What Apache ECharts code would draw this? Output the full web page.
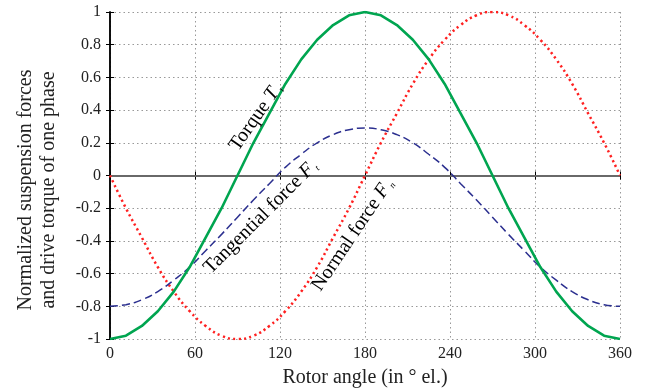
<!DOCTYPE html>
<html>
<head>
<meta charset="utf-8">
<script src="https://cdn.jsdelivr.net/npm/echarts@6/dist/echarts.min.js"></script>
<style>
  html, body { margin: 0; padding: 0; background: #fff; }
  #chart { width: 650px; height: 392px; }
</style>
</head>
<body>
<div id="chart"></div>
<script>
// rotor angle samples (deg el.)
const angles = [0, 11.25, 22.5, 33.75, 45, 56.25, 67.5, 78.75, 90, 101.25, 112.5, 123.75, 135, 146.25, 157.5, 168.75,
  180, 191.25, 202.5, 213.75, 225, 236.25, 247.5, 258.75, 270, 281.25, 292.5, 303.75, 315, 326.25, 337.5, 348.75, 360];

// torque T (green)
const torque = [-1, -0.98, -0.92, -0.83, -0.71, -0.56, -0.38, -0.2, 0, 0.2, 0.38, 0.56, 0.71, 0.83, 0.92, 0.98,
  1, 0.98, 0.92, 0.83, 0.71, 0.56, 0.38, 0.2, 0, -0.2, -0.38, -0.56, -0.71, -0.83, -0.92, -0.98, -1];

// tangential force F_t (blue dashed)
const tangential = [-0.8, -0.79, -0.76, -0.71, -0.64, -0.56, -0.46, -0.36, -0.255, -0.15, -0.05, 0.05, 0.13, 0.2, 0.25, 0.28,
  0.29, 0.28, 0.25, 0.2, 0.13, 0.05, -0.05, -0.15, -0.255, -0.36, -0.46, -0.56, -0.64, -0.71, -0.76, -0.79, -0.8];

// normal force F_n (red dotted)
const normal = [0, -0.2, -0.38, -0.56, -0.71, -0.83, -0.92, -0.98, -1, -0.98, -0.92, -0.83, -0.71, -0.56, -0.38, -0.2,
  0, 0.2, 0.38, 0.56, 0.71, 0.83, 0.92, 0.98, 1, 0.98, 0.92, 0.83, 0.71, 0.56, 0.38, 0.2, 0];

const FONT = 'Liberation Serif';
const pairs = (ys) => angles.map((a, i) => [a, ys[i]]);

const chart = echarts.init(document.getElementById('chart'));

const xBase = {
  type: 'value', min: 0, max: 360, interval: 60,
  axisLine: { show: true, lineStyle: { color: '#000', width: 1.5 } },
  axisTick: { show: true, inside: true, length: 4, lineStyle: { color: '#000' } },
};
const yBase = {
  type: 'value', min: -1, max: 1, interval: 0.2,
  axisLine: { show: true, lineStyle: { color: '#000', width: 1.5 } },
  axisTick: { show: true, inside: true, length: 4, lineStyle: { color: '#000' } },
};

chart.setOption({
  animation: false,
  backgroundColor: '#fff',
  grid: { left: 110, right: 30, top: 12, bottom: 53 },
  xAxis: [
    { ...xBase, position: 'bottom',
      axisLabel: { color: '#222', fontFamily: FONT, fontSize: 16, margin: 7 },
      splitLine: { show: true, lineStyle: { color: '#999', type: [1.5, 3], width: 1 } } },
    { ...xBase, position: 'top', axisLabel: { show: false }, splitLine: { show: false } },
  ],
  yAxis: [
    { ...yBase, position: 'left',
      axisLabel: { color: '#222', fontFamily: FONT, fontSize: 16, margin: 9,
        formatter: (v) => String(+v.toFixed(1)) },
      splitLine: { show: true, lineStyle: { color: '#999', type: [1.5, 3], width: 1 } } },
    { ...yBase, position: 'right', axisLabel: { show: false }, splitLine: { show: false } },
  ],
  series: [
    {
      type: 'line', data: pairs(normal), showSymbol: false, smooth: true, z: 3,
      lineStyle: { color: '#ff2020', width: 2.5, type: [2.2, 3.2] },
      markLine: {
        silent: true, symbol: 'none', label: { show: false }, z: 1,
        lineStyle: { color: '#888', type: 'solid', width: 1.5 },
        data: [{ yAxis: 0 }],
      },
    },
    {
      type: 'line', data: pairs(tangential), showSymbol: false, smooth: true, z: 4,
      lineStyle: { color: '#2b2f8f', width: 1.5, type: [8, 4] },
    },
    {
      type: 'line', data: pairs(torque), showSymbol: false, z: 5,
      lineStyle: { color: '#00a550', width: 2.6 },
    },
  ],
});

const px = (x, y) => chart.convertToPixel({ xAxisIndex: 0, yAxisIndex: 0 }, [x, y]);
const rich = {
  n: { fontFamily: FONT, fontSize: 20, color: '#222', lineHeight: 22, verticalAlign: 'bottom' },
  i: { fontFamily: FONT, fontSize: 20, fontStyle: 'italic', color: '#222', lineHeight: 22, verticalAlign: 'bottom' },
  s: { fontFamily: FONT, fontSize: 9, fontStyle: 'italic', color: '#222', lineHeight: 9, verticalAlign: 'bottom', padding: [0, 0, 0, 2] },
};
function label(text, x, y, deg) {
  const p = px(x, y);
  return {
    type: 'text', x: p[0], y: p[1], rotation: deg * Math.PI / 180, z: 10,
    style: { text, rich, align: 'center', verticalAlign: 'middle' },
  };
}

chart.setOption({
  graphic: [
    label('{n|Torque }{i|T}{s|τ}', 102.4, 0.36, 55),
    label('{n|Tangential force }{i|F}{s|t}', 105.9, -0.25, 45),
    label('{n|Normal force }{i|F}{s|n}', 170.8, -0.36, 56),
    {
      type: 'text', x: 37, y: 190, rotation: Math.PI / 2, z: 10,
      style: { text: 'Normalized suspension forces\nand drive torque of one phase',
        fontFamily: FONT, fontSize: 20, lineHeight: 23, fill: '#222', align: 'center', verticalAlign: 'middle' },
    },
    {
      type: 'text', x: 365, y: 378, z: 10,
      style: { text: 'Rotor angle (in ° el.)', fontFamily: FONT, fontSize: 20, fill: '#222',
        align: 'center', verticalAlign: 'middle' },
    },
  ],
});
</script>
</body>
</html>
